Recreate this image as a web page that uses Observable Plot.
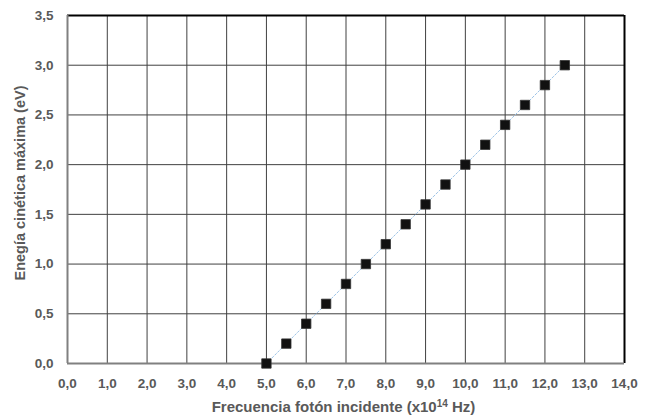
<!DOCTYPE html>
<html>
<head>
<meta charset="utf-8">
<script src="https://cdn.jsdelivr.net/npm/d3@7"></script>
<script src="https://cdn.jsdelivr.net/npm/@observablehq/plot@0.6"></script>
<style>
  html, body { margin: 0; padding: 0; background: #fff; }
  #chart { width: 646px; height: 418px; }
</style>
</head>
<body>
<div id="chart"></div>
<script>
const frecuencia = [5.0, 5.5, 6.0, 6.5, 7.0, 7.5, 8.0, 8.5, 9.0, 9.5, 10.0, 10.5, 11.0, 11.5, 12.0, 12.5];
const energia    = [0.0, 0.2, 0.4, 0.6, 0.8, 1.0, 1.2, 1.4, 1.6, 1.8, 2.0, 2.2, 2.4, 2.6, 2.8, 3.0];
const xTicks = [0,1,2,3,4,5,6,7,8,9,10,11,12,13,14];
const yTicks = [0,0.5,1,1.5,2,2.5,3,3.5];
const xTitle = "Frecuencia fotón incidente (x10";
const xTitleSup = "14";
const xTitleEnd = " Hz)";
const yTitle = "Enegía cinética máxima (eV)";

const data = frecuencia.map((f, i) => ({f, e: energia[i]}));
const fmt = v => v.toFixed(1).replace(".", ",");
const labelColor = "#595959";

const chart = Plot.plot({
  width: 646,
  height: 418,
  marginLeft: 67,
  marginRight: 22,
  marginTop: 15,
  marginBottom: 55,
  style: {fontFamily: "'Liberation Sans', Arial, sans-serif", fontSize: "13.5px", fontWeight: "bold", color: labelColor, background: "#fff"},
  x: {domain: [0, 14], ticks: xTicks, tickFormat: fmt, label: null},
  y: {domain: [0, 3.5], ticks: yTicks, tickFormat: fmt, label: null},
  marks: [
    Plot.gridX(xTicks, {stroke: "#404040", strokeOpacity: 1, strokeWidth: 1}),
    Plot.gridY(yTicks, {stroke: "#404040", strokeOpacity: 1, strokeWidth: 1}),
    Plot.ruleY([3.5], {stroke: "#000", strokeWidth: 2}),
    Plot.ruleX([14], {stroke: "#000", strokeWidth: 2}),
    Plot.ruleX([0], {stroke: "#808080", strokeWidth: 2}),
    Plot.ruleY([0], {stroke: "#808080", strokeWidth: 2}),
    Plot.axisX(xTicks, {tickSize: 0, tickPadding: 15, tickFormat: fmt, fill: labelColor, label: null}),
    Plot.axisY(yTicks, {tickSize: 0, tickPadding: 14, tickFormat: fmt, fill: labelColor, label: null}),
    Plot.line(data, {x: "f", y: "e", stroke: "#9dc3e6", strokeWidth: 1, strokeDasharray: "2,2"}),
    Plot.dot(data, {x: "f", y: "e", symbol: "square", r: 5.3, fill: "#111", stroke: "#333", strokeWidth: 0.8})
  ]
});

document.getElementById("chart").appendChild(chart);

// Axis titles (real text, with superscript)
const svg = d3.select(chart);
const xs = chart.scale("x"), ys = chart.scale("y");
const cx = (xs.apply(0) + xs.apply(14)) / 2 - 2;
const cy = (ys.apply(0) + ys.apply(3.5)) / 2 - 6;
const xt = svg.append("text")
  .attr("x", cx).attr("y", 412)
  .attr("text-anchor", "middle")
  .attr("fill", labelColor)
  .style("font-size", "15px").style("font-weight", "bold");
xt.append("tspan").text(xTitle);
xt.append("tspan").attr("dy", -5).style("font-size", "10px").text(xTitleSup);
xt.append("tspan").attr("dy", 5).text(xTitleEnd);

svg.append("text")
  .attr("transform", `translate(25,${cy}) rotate(-90)`)
  .attr("text-anchor", "middle")
  .attr("fill", labelColor)
  .style("font-size", "14.5px").style("font-weight", "bold")
  .text(yTitle);
</script>
</body>
</html>
